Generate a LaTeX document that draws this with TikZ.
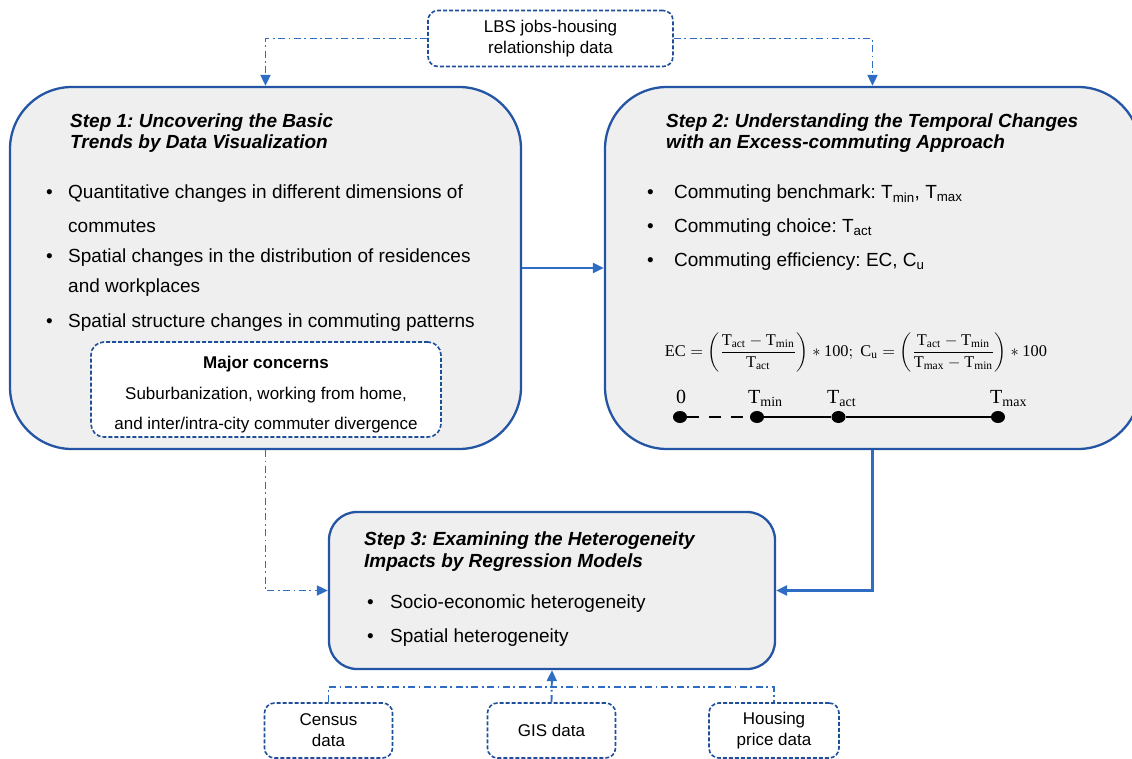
\documentclass[tikz,border=0pt]{standalone}
\usepackage[no-math]{fontspec}
\setmainfont{Liberation Sans}
\newfontfamily\eqf{Liberation Serif}
\usepackage{amsmath}
\usepackage{graphicx}
\usetikzlibrary{arrows.meta,shapes.geometric}
\frenchspacing
\definecolor{boxblue}{HTML}{2454A4}
\definecolor{arrowblue}{HTML}{2F6CC4}
\definecolor{dashblue}{HTML}{1F4E9A}
\definecolor{boxfill}{HTML}{EFEFEF}
\newcommand\Tsub[1]{\text{\eqf T}_{\text{\eqf #1}}}
\tikzset{
  bigbox/.style={draw=boxblue, line width=2.3pt, fill=boxfill, rounded corners=62pt, inner sep=0pt},
  midbox/.style={draw=boxblue, line width=2.3pt, fill=boxfill, rounded corners=28pt, inner sep=0pt},
  dbox/.style={draw=dashblue, line width=1.6pt, fill=white, dash pattern=on 4pt off 2pt, rounded corners=10pt, inner sep=0pt, align=center},
  dd/.style={draw=arrowblue, line width=1.9pt, dash pattern=on 7pt off 3.5pt on 1.8pt off 3.5pt},
  solidarrow/.style={draw=arrowblue, line width=2.3pt},
  tip/.style={-{Triangle[length=11pt,width=10pt]}},
  txt/.style={font=\fontsize{19}{22}\selectfont, inner sep=0pt, anchor=base west},
  ttl/.style={font=\fontsize{19}{22}\selectfont\bfseries\itshape, inner sep=0pt, anchor=base west},
  small/.style={font=\fontsize{17}{21}\selectfont},
  dot/.style={ellipse, fill=black, minimum width=14pt, minimum height=12pt, inner sep=0pt},
  lbl/.style={font=\fontsize{20}{24}\selectfont\eqf, inner sep=0pt},
}
\begin{document}
\begin{tikzpicture}[x=1pt,y=-1pt]
\useasboundingbox (0,0) rectangle (1132,759);

% main boxes
\node[bigbox, minimum width=511pt, minimum height=362pt] (s1) at (265.5,268) {};
\node[bigbox, minimum width=535pt, minimum height=362pt] (s2) at (872.5,268) {};
\node[midbox, minimum width=446pt, minimum height=157pt] (s3) at (552,590.5) {};

% data boxes
\node[dbox, small, minimum width=245pt, minimum height=56pt] (lbs) at (550.5,38.5) {LBS jobs-housing\\relationship data};
\node[dbox, small, minimum width=128pt, minimum height=55pt] (census) at (328.5,730.5) {Census\\data};
\node[dbox, small, minimum width=128pt, minimum height=55pt] (gis) at (551.5,730.5) {GIS data};
\node[dbox, small, minimum width=130pt, minimum height=55pt] (housing) at (774,730.5) {Housing\\price data};

% step 1 content
\node[ttl] (t1a) at (70,128) {Step 1: Uncovering the Basic};
\node[ttl] (t1b) at (70,149) {Trends by Data Visualization};
\node[txt] (b11) at (46,199) {•};
\node[txt] (l11) at (68,199) {Quantitative changes in different dimensions of};
\node[txt] (l12) at (68,233) {commutes};
\node[txt] (b12) at (46,263) {•};
\node[txt] (l13) at (68,263) {Spatial changes in the distribution of residences};
\node[txt] (l14) at (68,293) {and workplaces};
\node[txt] (b13) at (46,327) {•};
\node[txt] (l15) at (68,327) {Spatial structure changes in commuting patterns};

\node[dbox, minimum width=350pt, minimum height=95pt, rounded corners=13pt] (mc) at (266,389.5) {};
\node[small, font=\fontsize{17}{21}\selectfont\bfseries, inner sep=0pt, anchor=base] (mc1) at (266,368) {Major concerns};
\node[small, inner sep=0pt, anchor=base] (mc2) at (266,399) {Suburbanization, working from home,};
\node[small, inner sep=0pt, anchor=base] (mc3) at (266,429) {and inter/intra-city commuter divergence};

% step 2 content
\node[ttl] (t2a) at (666,128) {Step 2: Understanding the Temporal Changes};
\node[ttl] (t2b) at (666,149) {with an Excess-commuting Approach};
\node[txt] (b21) at (647,199) {•};
\node[txt] (l21) at (674,199) {Commuting benchmark: T\textsubscript{min}, T\textsubscript{max}};
\node[txt] (b22) at (647,233) {•};
\node[txt] (l22) at (674,233) {Commuting choice: T\textsubscript{act}};
\node[txt] (b23) at (647,267) {•};
\node[txt] (l23) at (674,267) {Commuting efficiency: EC, C\textsubscript{u}};

\node[inner sep=0pt] (eq) at (856,352) {\resizebox{382pt}{!}{$\text{\eqf EC}=\left(\dfrac{\Tsub{act}-\Tsub{min}}{\Tsub{act}}\right)\ast\text{\eqf 100};\ \text{\eqf C}_{\text{\eqf u}}=\left(\dfrac{\Tsub{act}-\Tsub{min}}{\Tsub{max}-\Tsub{min}}\right)\ast\text{\eqf 100}$}};

\node[dot] (d0) at (680,417) {};
\node[dot] (d1) at (757,417) {};
\node[dot] (d2) at (838.5,417) {};
\node[dot] (d3) at (998,417) {};
\draw[line width=1.7pt, dash pattern=on 12pt off 10pt] (d0) -- (d1);
\draw[line width=1.7pt] (d1) -- (d2) -- (d3);
\node[lbl, anchor=base] (z0) at (681,403) {0};
\node[lbl, anchor=base west] (z1) at (748,403) {$\Tsub{min}$};
\node[lbl, anchor=base west] (z2) at (827,403) {$\Tsub{act}$};
\node[lbl, anchor=base west] (z3) at (990,403) {$\Tsub{max}$};

% step 3 content
\node[ttl] (t3a) at (364,545) {Step 3: Examining the Heterogeneity};
\node[ttl] (t3b) at (364,567) {Impacts by Regression Models};
\node[txt] (b31) at (367,608) {•};
\node[txt] (l31) at (390,608) {Socio-economic heterogeneity};
\node[txt] (b32) at (367,642) {•};
\node[txt] (l32) at (390,642) {Spatial heterogeneity};

% connectors
\draw[dd, tip] (lbs.west) -| (s1.north);
\draw[dd, tip] (lbs.east) -| (s2.north);
\draw[solidarrow, tip] (s1.east) -- (s2.west);
\draw[dd, tip] (s1.south) |- (s3.west);
\draw[solidarrow, tip] (s2.south) |- (s3.east);
\coordinate (bus) at (0,687);
\draw[dd] (census.north) -- (census.north |- bus) -- (housing.north |- bus) -- (housing.north);
\draw[dd, tip] (gis.north) -- (s3.south);
\end{tikzpicture}
\end{document}
